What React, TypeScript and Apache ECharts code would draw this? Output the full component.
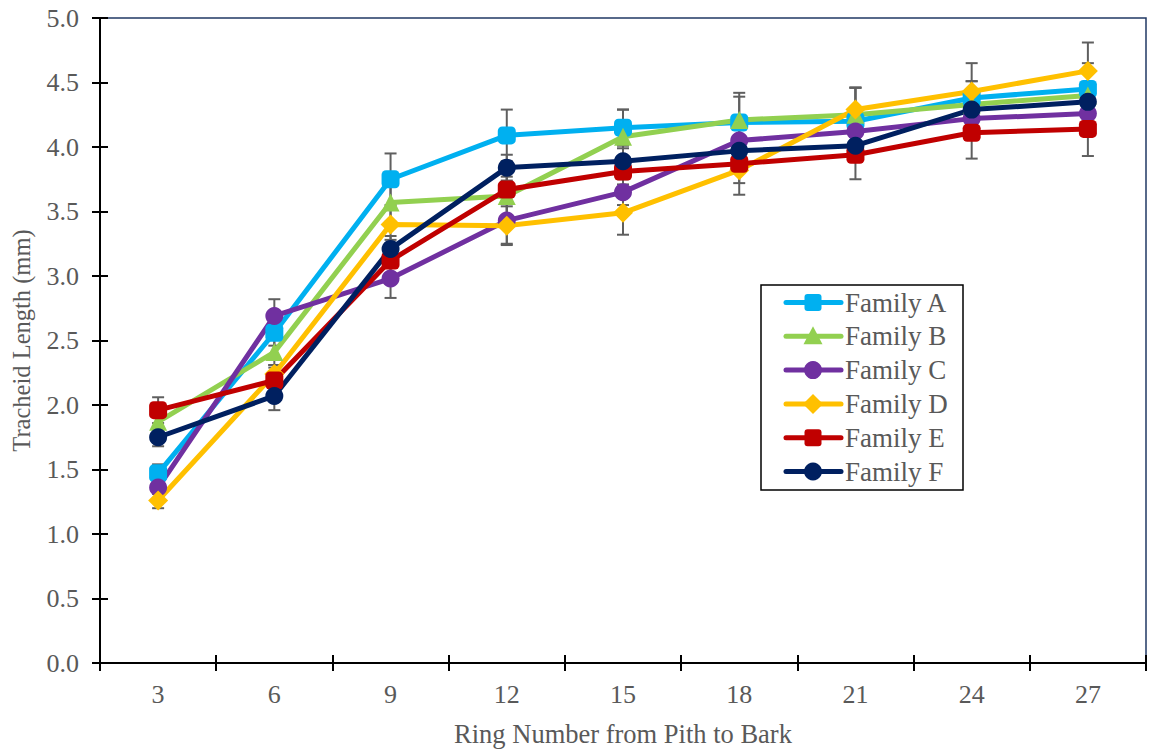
import React, { useEffect, useRef } from "react";
import * as echarts from "echarts";

const rings = ["3", "6", "9", "12", "15", "18", "21", "24", "27"];
const yTicks = [0, 0.5, 1, 1.5, 2, 2.5, 3, 3.5, 4, 4.5, 5];

const familyA = [1.47, 2.56, 3.75, 4.09, 4.15, 4.19, 4.2, 4.38, 4.45];
const familyB = [1.87, 2.41, 3.57, 3.62, 4.08, 4.21, 4.25, 4.33, 4.4];
const familyC = [1.36, 2.69, 2.98, 3.43, 3.65, 4.05, 4.12, 4.22, 4.26];
const familyD = [1.26, 2.24, 3.4, 3.39, 3.49, 3.82, 4.29, 4.43, 4.59];
const familyE = [1.96, 2.19, 3.12, 3.67, 3.81, 3.87, 3.94, 4.11, 4.14];
const familyF = [1.75, 2.07, 3.21, 3.84, 3.89, 3.97, 4.01, 4.29, 4.35];

const errA = [0.07, 0.1, 0.2, 0.2, 0.14, 0.2, 0.26, 0.13, 0.2];
const errB = [0.06, 0.1, 0.15, 0.2, 0.21, 0.21, 0.21, 0.18, 0.1];
const errC = [0.05, 0.13, 0.15, 0.18, 0.1, 0.15, 0.15, 0.15, 0.1];
const errD = [0.06, 0.07, 0.12, 0.15, 0.17, 0.19, 0.17, 0.22, 0.22];
const errE = [0.1, 0.1, 0.1, 0.1, 0.1, 0.15, 0.19, 0.2, 0.21];
const errF = [0.07, 0.11, 0.1, 0.1, 0.1, 0.1, 0.1, 0.1, 0.1];

const families = [
  { name: "Family A", values: familyA, err: errA, color: "#00B0F0", symbol: "roundRect", size: 18 },
  { name: "Family B", values: familyB, err: errB, color: "#92D050", symbol: "triangle", size: 18 },
  { name: "Family C", values: familyC, err: errC, color: "#7030A0", symbol: "circle", size: 18 },
  { name: "Family D", values: familyD, err: errD, color: "#FFC000", symbol: "diamond", size: 20 },
  { name: "Family E", values: familyE, err: errE, color: "#C00000", symbol: "roundRect", size: 18 },
  { name: "Family F", values: familyF, err: errF, color: "#002060", symbol: "circle", size: 18 },
];

const FONT = "'Liberation Serif', 'Times New Roman', serif";
const GRAY = "#595959";

function legendMarker(symbol: string, cx: number, cy: number, color: string) {
  const s = 8.5;
  if (symbol === "roundRect") {
    return { type: "rect", shape: { x: cx - s, y: cy - s, width: 2 * s, height: 2 * s, r: 3 }, style: { fill: color } };
  }
  if (symbol === "circle") {
    return { type: "circle", shape: { cx, cy, r: 9 }, style: { fill: color } };
  }
  if (symbol === "triangle") {
    return {
      type: "polygon",
      shape: { points: [[cx, cy - 10], [cx + 9.5, cy + 8], [cx - 9.5, cy + 8]] },
      style: { fill: color },
    };
  }
  return {
    type: "polygon",
    shape: { points: [[cx, cy - 10], [cx + 10, cy], [cx, cy + 10], [cx - 10, cy]] },
    style: { fill: color },
  };
}

export default function App() {
  const ref = useRef<HTMLDivElement>(null);
  useEffect(() => {
    if (!ref.current) return;
    const chart = echarts.init(ref.current, null, { renderer: "svg" });

    const errorSeries = families.map((f) => ({
      type: "custom",
      name: f.name + " error",
      z: 1,
      silent: true,
      data: f.values.map((v, i) => [i, v, f.err[i]]),
      encode: { x: 0, y: 1 },
      renderItem: (params: any, api: any) => {
        const i = api.value(0);
        const v = api.value(1);
        const e = api.value(2);
        const hi = api.coord([i, v + e]);
        const lo = api.coord([i, v - e]);
        const w = 6;
        const style = { stroke: "#5F5F5F", lineWidth: 2 };
        return {
          type: "group",
          children: [
            { type: "line", shape: { x1: hi[0], y1: hi[1], x2: lo[0], y2: lo[1] }, style },
            { type: "line", shape: { x1: hi[0] - w, y1: hi[1], x2: hi[0] + w, y2: hi[1] }, style },
            { type: "line", shape: { x1: lo[0] - w, y1: lo[1], x2: lo[0] + w, y2: lo[1] }, style },
          ],
        };
      },
    }));

    const lineSeries = families.map((f) => ({
      type: "line",
      name: f.name,
      z: 3,
      data: f.values,
      symbol: f.symbol,
      symbolSize: f.size,
      showAllSymbol: true,
      lineStyle: { color: f.color, width: 5 },
      itemStyle: { color: f.color, borderWidth: 0 },
      emphasis: { disabled: true },
    }));

    const legendChildren: any[] = [
      {
        type: "rect",
        shape: { x: 761, y: 285, width: 202, height: 205 },
        style: { fill: "#ffffff", stroke: "#000000", lineWidth: 1.5 },
      },
    ];
    families.forEach((f, k) => {
      const cy = 302.5 + k * 33.8;
      legendChildren.push({
        type: "line",
        shape: { x1: 786, y1: cy, x2: 841, y2: cy },
        style: { stroke: f.color, lineWidth: 5, lineCap: "round" },
      });
      legendChildren.push(legendMarker(f.symbol, 813, cy, f.color));
      legendChildren.push({
        type: "text",
        x: 845,
        y: cy,
        style: {
          text: f.name,
          fontFamily: FONT,
          fontSize: 27,
          fill: GRAY,
          textVerticalAlign: "middle",
          verticalAlign: "middle",
          align: "left",
        },
      });
    });

    chart.setOption({
      animation: false,
      backgroundColor: "#ffffff",
      textStyle: { fontFamily: FONT },
      grid: {
        left: 100,
        right: 3,
        top: 18,
        bottom: 90,
        containLabel: false,
        outerBoundsMode: "none",
        show: true,
        borderColor: "#203864",
        borderWidth: 1.5,
        backgroundColor: "transparent",
      },
      graphic: [{ type: "group", z: 100, children: legendChildren }],
      xAxis: [
        {
          type: "category",
          data: rings,
          boundaryGap: true,
          name: "Ring Number from Pith to Bark",
          nameLocation: "middle",
          nameGap: 57,
          nameTextStyle: { fontFamily: FONT, fontSize: 26.5, color: GRAY },
          axisLine: { show: true, lineStyle: { color: "#000000", width: 2 } },
          axisTick: { show: true, length: 8, lineStyle: { color: "#000000", width: 2 } },
          axisLabel: { fontFamily: FONT, fontSize: 26, color: GRAY, margin: 18 },
          splitLine: { show: false },
          z: 5,
        },
        {
          type: "category",
          data: rings,
          boundaryGap: true,
          position: "bottom",
          axisLine: { show: false },
          axisTick: { show: true, inside: true, length: 8, lineStyle: { color: "#000000", width: 2 } },
          axisLabel: { show: false },
          splitLine: { show: false },
        },
      ],
      yAxis: [
        {
          type: "value",
          min: 0,
          max: 5,
          interval: 0.5,
          name: "Tracheid Length (mm)",
          nameLocation: "middle",
          nameGap: 66,
          nameTextStyle: { fontFamily: FONT, fontSize: 24.5, color: GRAY },
          axisLine: { show: true, lineStyle: { color: "#000000", width: 2 } },
          axisTick: { show: true, length: 8, lineStyle: { color: "#000000", width: 2 } },
          axisLabel: {
            fontFamily: FONT,
            fontSize: 26,
            color: GRAY,
            margin: 21,
            formatter: (v: number) => (yTicks.includes(v) ? v.toFixed(1) : ""),
          },
          splitLine: { show: false },
          z: 5,
        },
        {
          type: "value",
          min: 0,
          max: 5,
          interval: 0.5,
          position: "left",
          axisLine: { show: false },
          axisTick: { show: true, inside: true, length: 8, lineStyle: { color: "#000000", width: 2 } },
          axisLabel: { show: false },
          splitLine: { show: false },
        },
      ],
      series: [...errorSeries, ...lineSeries],
    });
    return () => chart.dispose();
  }, []);
  return (
    <div
      ref={ref}
      style={{ position: "absolute", left: 0, top: 0, width: 1149, height: 753 }}
    />
  );
}
